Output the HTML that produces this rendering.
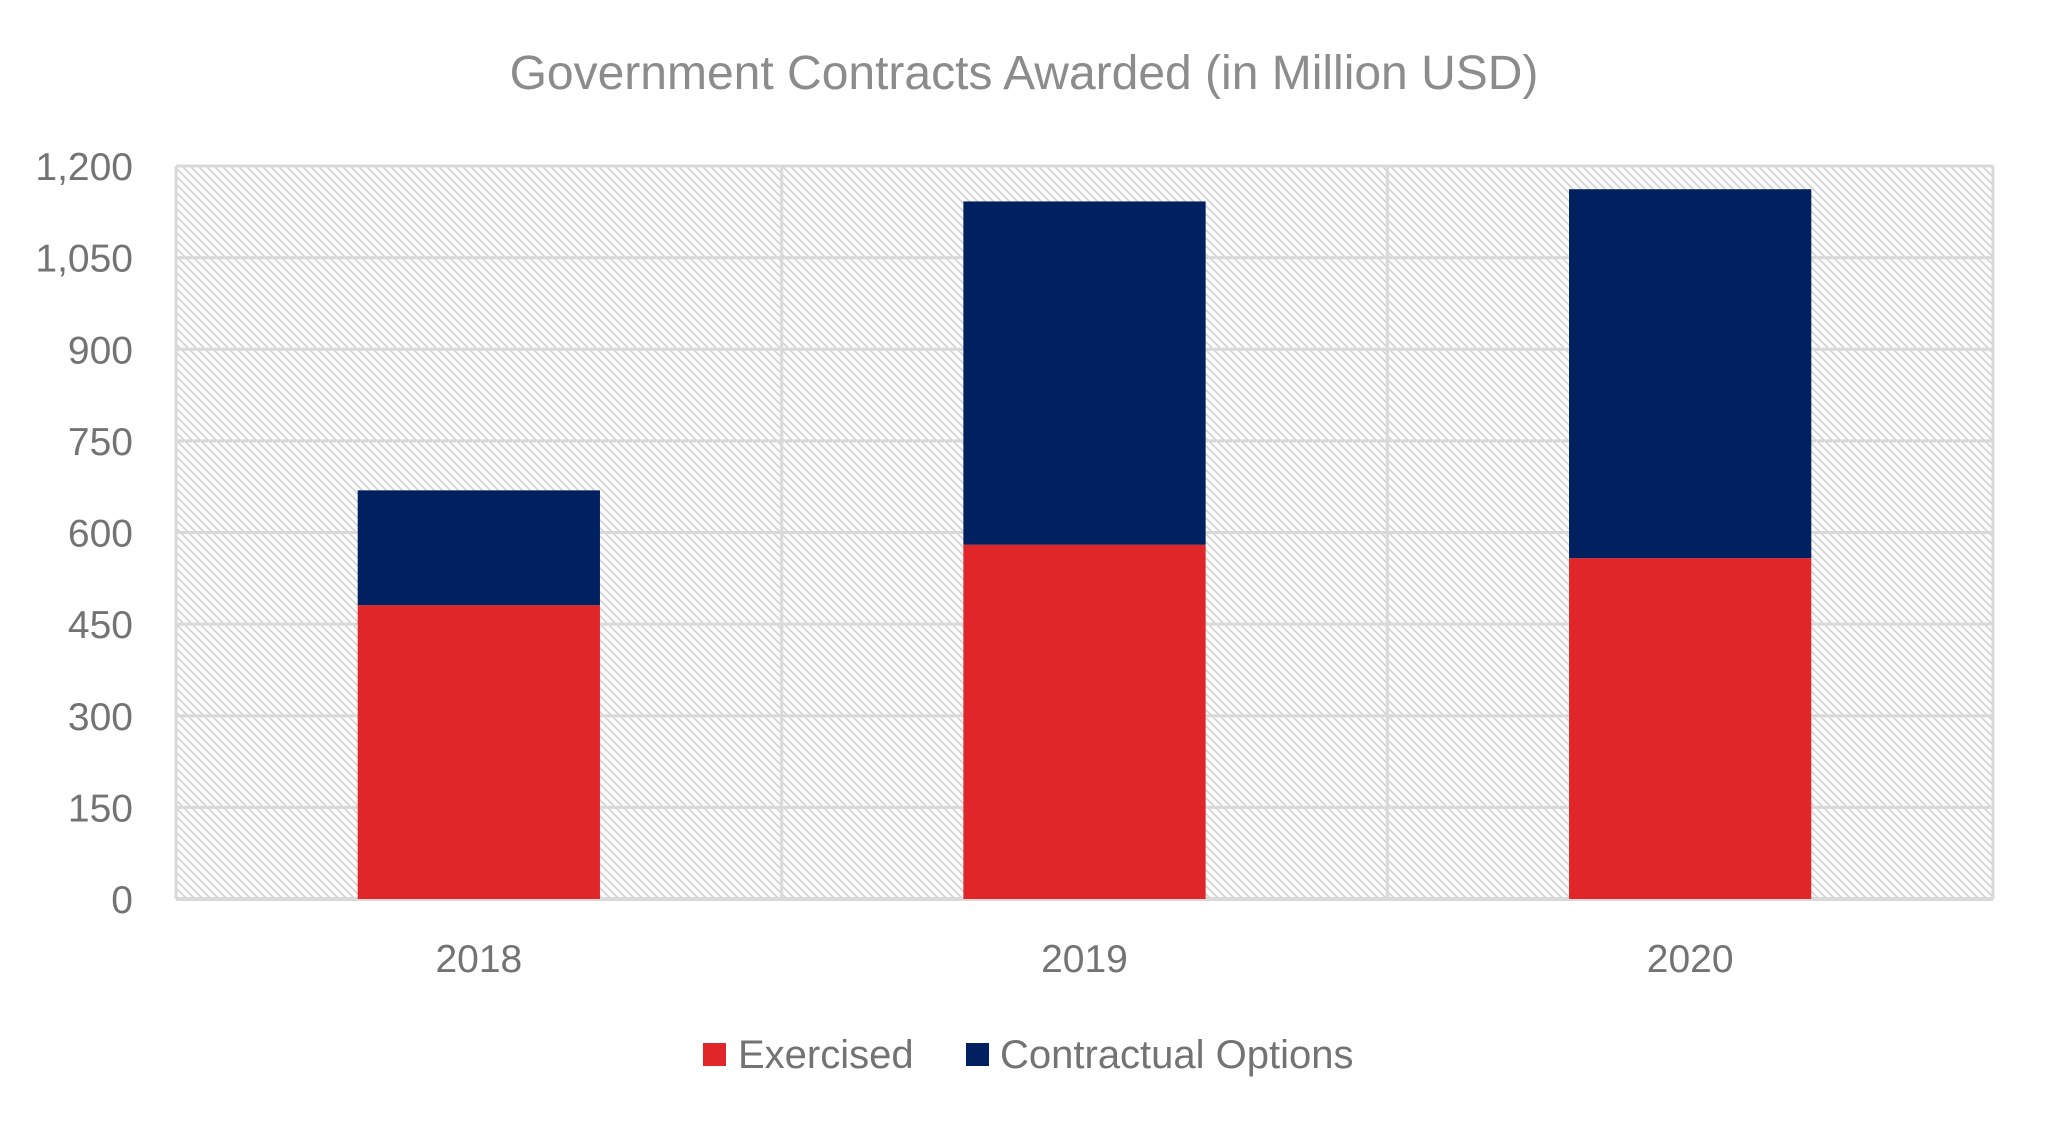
<!DOCTYPE html>
<html><head><meta charset="utf-8"><style>
html,body{margin:0;padding:0;background:#fff;}
svg{display:block;font-family:"Liberation Sans",sans-serif;}
</style></head><body>
<svg id="chart" width="2048" height="1129" viewBox="0 0 2048 1129" xmlns="http://www.w3.org/2000/svg">
<defs>
<pattern id="hatch" patternUnits="userSpaceOnUse" width="8" height="8">
<rect width="8" height="8" fill="#fbfbfb"/>
<path d="M-2,-2 L10,10 M-2,6 L2,10 M6,-2 L10,2" stroke="#d2d2d2" stroke-width="1.6"/>
</pattern>
</defs>
<text x="1024" y="89" text-anchor="middle" font-size="48" fill="#8c8c8c">Government Contracts Awarded (in Million USD)</text>
<rect x="176" y="166" width="1817" height="733" fill="url(#hatch)"/>
<g id="grid"></g>
<g id="bars"></g>
<g id="yticks"></g>
<g id="xticks"></g>
<g>
<rect x="703" y="1043" width="23" height="23" fill="#e02628"/>
<text x="738" y="1068" font-size="40" fill="#737373">Exercised</text>
<rect x="966" y="1043" width="23" height="23" fill="#002060"/>
<text x="1000" y="1068" font-size="40" fill="#737373">Contractual Options</text>
</g>
</svg>
<script>
const categories = ["2018", "2019", "2020"];
const exercised = [481, 580, 558];
const contractual = [188, 562, 604];
const yTicks = [0, 150, 300, 450, 600, 750, 900, 1050, 1200];
const yTickLabels = ["0", "150", "300", "450", "600", "750", "900", "1,050", "1,200"];

const NS = "http://www.w3.org/2000/svg";
const L = 176, R = 1993, T = 166, B = 899, YMAX = 1200;
const y = v => B - (v / YMAX) * (B - T);
const band = (R - L) / categories.length;
const xc = i => L + band * (i + 0.5);
const bw = band * 0.4;
function mk(tag, attrs, parent) {
  const e = document.createElementNS(NS, tag);
  for (const k in attrs) e.setAttribute(k, attrs[k]);
  parent.appendChild(e);
  return e;
}
const grid = document.getElementById('grid');
yTicks.forEach((v, i) => {
  const ln = mk('line', {x1: L, x2: R, y1: y(v), y2: y(v), stroke: '#d9d9d9', 'stroke-width': i === 0 ? 4 : 3}, grid);
  
  
  const t = mk('text', {x: 133, y: y(v) + 14, 'text-anchor': 'end', 'font-size': 39, fill: '#737373'}, document.getElementById('yticks'));
  t.textContent = yTickLabels[i];
  
  
});
for (let i = 0; i <= categories.length; i++) {
  const xx = L + band * i;
  const ln = mk('line', {x1: xx, x2: xx, y1: T, y2: B, stroke: '#d9d9d9', 'stroke-width': 3}, grid);
  
  
}
const bars = document.getElementById('bars');
categories.forEach((c, i) => {
  const x0 = xc(i) - bw / 2;
  const r = mk('rect', {x: x0, y: y(exercised[i]), width: bw, height: B - y(exercised[i]), fill: '#e02628'}, bars);
  
  
  const top = exercised[i] + contractual[i];
  const b = mk('rect', {x: x0, y: y(top), width: bw, height: y(exercised[i]) - y(top), fill: '#002060'}, bars);
  
  
  const t = mk('text', {x: xc(i), y: 972, 'text-anchor': 'middle', 'font-size': 39, fill: '#737373'}, document.getElementById('xticks'));
  t.textContent = c;
  
  
});
</script>
</body></html>
